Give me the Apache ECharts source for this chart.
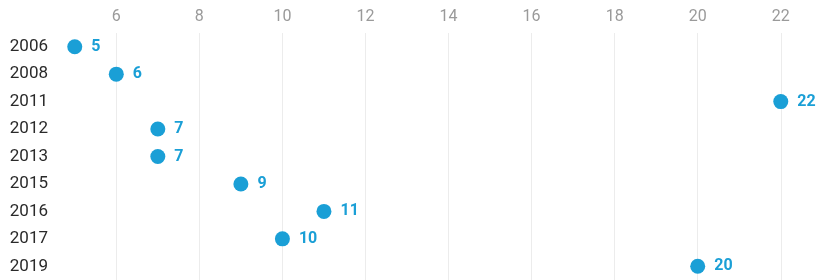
<!DOCTYPE html>
<html>
<head>
<meta charset="utf-8">
<script src="https://cdn.jsdelivr.net/npm/echarts@6/dist/echarts.min.js"></script>
<style>
  html, body { margin: 0; padding: 0; background: #fff; }
  #container { width: 818px; height: 280px; }
</style>
</head>
<body>
<div id="container"></div>
<script>
var years = ['2006', '2008', '2011', '2012', '2013', '2015', '2016', '2017', '2019'];
var counts = [5, 6, 22, 7, 7, 9, 11, 10, 20];

var myChart = echarts.init(document.getElementById('container'));

var option = {
    animation: false,
    grid: {
        left: 54,
        right: 4,
        top: 33,
        bottom: -3
    },
    xAxis: {
        type: 'value',
        position: 'top',
        min: 4.5,
        max: 22.8,
        splitNumber: 9,
        axisLine: { show: false },
        axisTick: { show: false },
        axisLabel: {
            color: '#9a9a9a',
            fontSize: 16,
            fontFamily: 'Roboto',
            margin: 8,
            showMinLabel: false,
            showMaxLabel: false
        },
        splitLine: {
            showMinLine: false,
            showMaxLine: false,
            lineStyle: { color: '#ececec' }
        }
    },
    yAxis: {
        type: 'category',
        inverse: true,
        data: years,
        axisLine: { show: false },
        axisTick: { show: false },
        axisLabel: {
            color: '#2a2a2a',
            fontSize: 17,
            fontFamily: 'Roboto',
            margin: 6
        },
        splitLine: { show: false }
    },
    series: [
        {
            type: 'scatter',
            data: counts,
            symbolSize: 15,
            itemStyle: { color: '#1a9fd6', opacity: 1 },
            label: {
                show: true,
                position: 'right',
                distance: 9,
                color: '#1a9fd6',
                fontSize: 16,
                fontWeight: 'bold',
                fontFamily: 'Roboto'
            }
        }
    ]
};

myChart.setOption(option);
</script>
</body>
</html>
